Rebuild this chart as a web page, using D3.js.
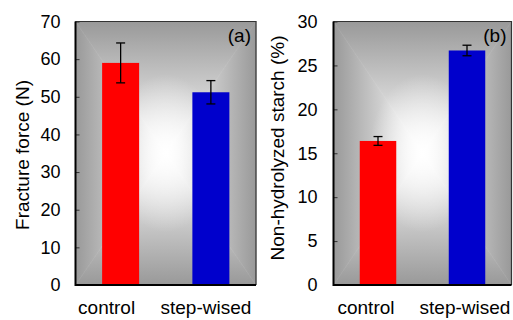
<!DOCTYPE html>
<html>
<head>
<meta charset="utf-8">
<script src="https://d3js.org/d3.v7.min.js"></script>
<style>
  body { margin: 0; background: #fff; }
  text { font-family: "Liberation Sans", Arial, sans-serif; fill: #000; }
</style>
</head>
<body>
<script>
// two panels, same categories
var groups = ["control", "step-wised"];
var colors = ["#ff0000", "#0000cc"];

var forceMean = [59.0, 51.2];
var forceErr = [5.3, 3.1];
var forceTicks = [0, 10, 20, 30, 40, 50, 60, 70];

var starchMean = [16.4, 26.7];
var starchErr = [0.5, 0.6];
var starchTicks = [0, 5, 10, 15, 20, 25, 30];

var svg = d3.select("body").append("svg")
  .attr("width", 513)
  .attr("height", 320);

var defs = svg.append("defs");

// soft white glow to round off the middle of the box gradient
var glow = defs.append("radialGradient").attr("id", "glow");
glow.append("stop").attr("offset", 0).attr("stop-color", "#fff").attr("stop-opacity", 0.9);
glow.append("stop").attr("offset", 0.5).attr("stop-color", "#fff").attr("stop-opacity", 0.45);
glow.append("stop").attr("offset", 1).attr("stop-color", "#fff").attr("stop-opacity", 0);

// excel-ish "from center" rectangular gradient, built from 4 triangles
function gradBox (g, id, x0, y0, w, h) {
  var cx = x0 + w / 2, cy = y0 + h / 2;
  var sides = [
    {name: "t", pts: [[x0, y0], [x0 + w, y0], [cx, cy]], from: [cx, y0]},
    {name: "b", pts: [[x0, y0 + h], [x0 + w, y0 + h], [cx, cy]], from: [cx, y0 + h]},
    {name: "l", pts: [[x0, y0], [x0, y0 + h], [cx, cy]], from: [x0, cy]},
    {name: "r", pts: [[x0 + w, y0], [x0 + w, y0 + h], [cx, cy]], from: [x0 + w, cy]}
  ];
  sides.forEach(function (s) {
    var lg = defs.append("linearGradient")
      .attr("id", id + s.name)
      .attr("gradientUnits", "userSpaceOnUse")
      .attr("x1", s.from[0]).attr("y1", s.from[1])
      .attr("x2", cx).attr("y2", cy);
    lg.append("stop").attr("offset", 0).attr("stop-color", "#999999");
    lg.append("stop").attr("offset", 1).attr("stop-color", "#ffffff");
    g.append("path")
      .attr("d", "M" + s.pts.map(p => p.join(",")).join("L") + "Z")
      .attr("fill", "url(#" + id + s.name + ")")
      .attr("stroke", "url(#" + id + s.name + ")")
      .attr("stroke-width", 0.6);
  });
  g.append("ellipse")
    .attr("cx", cx).attr("cy", cy)
    .attr("rx", w * 0.3).attr("ry", h * 0.3)
    .attr("fill", "url(#glow)");
}

function panel (opt) {
  var g = svg.append("g");
  var x0 = opt.left, x1 = opt.right, y0 = 21.5, y1 = 285;

  var x = d3.scaleBand()
    .domain(groups)
    .range([x0, x1])
    .paddingInner(0.59)
    .paddingOuter(0.295);
  var y = d3.scaleLinear()
    .domain([0, opt.max])
    .range([y1, y0]);

  gradBox(g, opt.id, x0, y0, x1 - x0, y1 - y0);

  // bars
  g.selectAll("rect.bar")
    .data(opt.mean)
    .enter().append("rect")
      .attr("class", "bar")
      .attr("x", (d, i) => x(groups[i]))
      .attr("width", x.bandwidth())
      .attr("y", d => y(d))
      .attr("height", d => y1 - y(d))
      .attr("fill", (d, i) => colors[i]);

  // error bars
  var eb = g.selectAll("g.err")
    .data(opt.mean)
    .enter().append("g")
      .attr("class", "err")
      .attr("stroke", "#000")
      .attr("stroke-width", 1.3);
  eb.append("line")
    .attr("x1", (d, i) => x(groups[i]) + x.bandwidth() / 2)
    .attr("x2", (d, i) => x(groups[i]) + x.bandwidth() / 2)
    .attr("y1", (d, i) => y(d + opt.err[i]))
    .attr("y2", (d, i) => y(d - opt.err[i]));
  [1, -1].forEach(function (sgn) {
    eb.append("line")
      .attr("x1", (d, i) => x(groups[i]) + x.bandwidth() / 2 - 4.5)
      .attr("x2", (d, i) => x(groups[i]) + x.bandwidth() / 2 + 4.5)
      .attr("y1", (d, i) => y(d + sgn * opt.err[i]))
      .attr("y2", (d, i) => y(d + sgn * opt.err[i]));
  });

  // y axis: small inside ticks, labels
  var ya = g.append("g")
    .attr("transform", "translate(" + x0 + ",0)")
    .call(d3.axisLeft(y).tickValues(opt.ticks).tickSize(-4).tickPadding(opt.pad));
  ya.select(".domain").remove();
  ya.selectAll("line").attr("stroke", "#333");
  ya.selectAll("text")
    .attr("font-size", 18)
    .attr("font-family", "Liberation Sans, Arial, sans-serif")
    .attr("fill", "#000");

  // frame: thin top/right, heavy left/bottom
  g.append("path")
    .attr("d", "M" + x0 + "," + y0 + "H" + x1 + "V" + y1)
    .attr("fill", "none")
    .attr("stroke", "#333")
    .attr("stroke-width", 1.2);
  g.append("path")
    .attr("d", "M" + x0 + "," + y0 + "V" + y1 + "H" + x1)
    .attr("fill", "none")
    .attr("stroke", "#000")
    .attr("stroke-width", 2);

  // x labels (sit a little left of bar centres in the original)
  var xa = g.append("g")
    .attr("transform", "translate(0," + y1 + ")")
    .call(d3.axisBottom(x).tickSize(0).tickPadding(16));
  xa.select(".domain").remove();
  xa.selectAll("text")
    .attr("font-size", 19)
    .attr("font-family", "Liberation Sans, Arial, sans-serif")
    .attr("fill", "#000")
    .attr("dx", (d, i) => opt.labelShift[i]);

  g.append("text")
    .attr("transform", "translate(" + opt.titleX + "," + opt.titleY + ") rotate(-90)")
    .attr("text-anchor", "middle")
    .attr("font-size", 19)
    .text(opt.title);

  g.append("text")
    .attr("x", x1 - 5)
    .attr("y", 42)
    .attr("text-anchor", "end")
    .attr("font-size", 19)
    .text(opt.tag);
}

panel({id: "ga", left: 75.5, right: 256, max: 70, ticks: forceTicks, pad: 15,
  mean: forceMean, err: forceErr, labelShift: [-14, -5],
  title: "Fracture force (N)", titleX: 29, titleY: 155, tag: "(a)"});
panel({id: "gb", left: 333.5, right: 511.5, max: 30, ticks: starchTicks, pad: 16,
  mean: starchMean, err: starchErr, labelShift: [-12, -2],
  title: "Non-hydrolyzed starch (%)", titleX: 284, titleY: 148, tag: "(b)"});
</script>
</body>
</html>
